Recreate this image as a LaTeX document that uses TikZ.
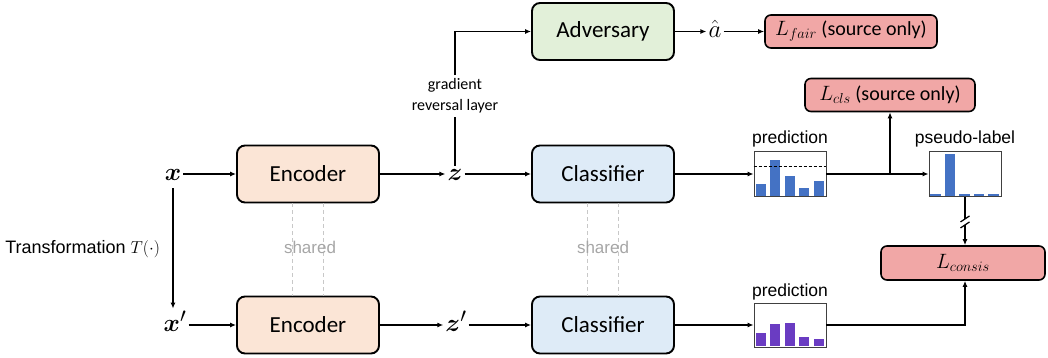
\documentclass[tikz,border=0pt]{standalone}
\usepackage{fontspec}
\usepackage{bm}
\setmainfont{Carlito}
\newfontfamily\arialfont{Liberation Sans}
\usetikzlibrary{arrows.meta,calc}

\definecolor{encfill}{HTML}{FBE5D6}
\definecolor{clsfill}{HTML}{DEEBF7}
\definecolor{advfill}{HTML}{E2F0D9}
\definecolor{lossfill}{HTML}{F1A7A6}
\definecolor{barblue}{HTML}{4472C4}
\definecolor{barpurple}{HTML}{6A3CC2}
\definecolor{sharegray}{HTML}{C8C8C8}
\definecolor{sharetext}{HTML}{A6A6A6}

\tikzset{
  module/.style={draw=black, line width=1.9pt, rounded corners=8pt,
    minimum width=142pt, minimum height=57pt, inner sep=0pt,
    font=\fontsize{23}{26}\selectfont},
  lossbox/.style={draw=black, line width=1.6pt, rounded corners=6pt,
    fill=lossfill, minimum height=33pt, inner sep=0pt,
    font=\fontsize{20}{24}\selectfont},
  var/.style={font=\fontsize{28}{30}\selectfont, inner sep=2pt,
    text height=12.5pt, text depth=0pt},
  hist/.style={draw=black!75, line width=0.9pt, minimum width=72pt,
    minimum height=45pt, inner sep=0pt},
  flow/.style={line width=1.3pt, -{Latex[length=6pt,width=5pt]}},
  plain/.style={line width=1.3pt},
  sharedline/.style={draw=sharegray, line width=0.8pt, dash pattern=on 4pt off 3pt},
  caption/.style={font=\arialfont\fontsize{17.5}{20}\selectfont, inner sep=2pt},
  sharedtext/.style={font=\arialfont\fontsize{17}{20}\selectfont, text=sharetext},
  sidetext/.style={font=\arialfont\fontsize{18}{20}\selectfont},
  threshold/.style={line width=0.8pt, dash pattern=on 3pt off 2pt},
}

\begin{document}
\begin{tikzpicture}[x=1pt, y=-1pt]
\useasboundingbox (0,0) rectangle (1048,358);

% inputs and feature maps
\node[var] (x)  at (173,174) {$\bm{x}$};
\node[var] (x2) at (175,325) {$\bm{x}'$};
\node[module, fill=encfill] (enc1) at (308,174) {Encoder};
\node[module, fill=encfill] (enc2) at (308,325) {Encoder};
\node[var] (z)  at (455,174) {$\bm{z}$};
\node[var] (z2) at (456,325) {$\bm{z}'$};
\node[module, fill=clsfill] (cls1) at (603,174) {Classifier};
\node[module, fill=clsfill] (cls2) at (603,325) {Classifier};

% adversarial branch
\node[module, fill=advfill] (adv) at (603,31.5) {Adversary};
\node[font=\fontsize{16}{21}\selectfont, align=center] (grl) at (455,96)
  {gradient\\reversal layer};
\node[var] (ahat) at (715,31.5) {$\hat{a}$};
\node[lossbox, minimum width=172pt] (lfair) at (851,31.5) {$L_{fair}$ (source only)};

% losses
\node[lossbox, minimum width=170pt] (lcls) at (890,95) {$L_{cls}$ (source only)};
\node[lossbox, minimum width=164pt, minimum height=34pt] (lcons) at (963,263) {$L_{consis}$};

% output histograms
\node[hist] (pred1)  at (790,174) {};
\node[hist] (pseudo) at (965,174) {};
\node[hist, minimum height=44pt] (pred2) at (790,325) {};
\node[caption, above=2pt] (pred1lbl) at (pred1.north) {prediction};
\node[caption, above=2pt] (pseudolbl) at (pseudo.north) {pseudo-label};
\node[caption, above=0pt] (pred2lbl) at (pred2.north) {prediction};

\foreach \h [count=\i from 0] in {12,35.7,19.7,7.7,14.7}
  \fill[barblue] ($(pred1.south west)+(2+14.5*\i,-1.2)$) rectangle ++(10,-\h);
\draw[threshold] ($(pred1.north west)+(0,15.7)$) -- ($(pred1.north east)+(0,15.7)$);
\foreach \h [count=\i from 0] in {2,41.5,2,2,2}
  \fill[barblue] ($(pseudo.south west)+(1.5+14.5*\i,-1.2)$) rectangle ++(10.5,-\h);
\foreach \h [count=\i from 0] in {13,22.6,23.6,9.5,7.5}
  \fill[barpurple] ($(pred2.south west)+(2+14.5*\i,-1.2)$) rectangle ++(10,-\h);

% main flow
\draw[flow] (x) -- (enc1);
\draw[flow] (x2) -- (enc2);
\draw[flow] (enc1) -- (z);
\draw[flow] (enc2) -- (z2);
\draw[flow] (z) -- (cls1);
\draw[flow] (z2) -- (cls2);
\draw[flow] (cls1) -- (pred1);
\draw[flow] (cls2) -- (pred2);
\draw[flow, shorten <=6pt, shorten >=8pt] (x) --
  node[sidetext, left=9pt] (tlab) {Transformation $T(\cdot)$}
  (x |- x2.north);

% adversary branch
\draw[plain] (z) -- (grl);
\draw[flow] (grl.north) |- (adv.west);
\draw[flow] (adv) -- (ahat);
\draw[flow] (ahat) -- (lfair);

% classification loss and pseudo-label
\draw[flow] (pred1) -- (pseudo);
\draw[flow] (pred1.east -| lcls.south) -- (lcls.south);

% stop-gradient break on the pseudo-label path
\coordinate (brkA) at ($(pseudo.south)+(0,22)$);
\coordinate (brkB) at ($(pseudo.south)+(0,28)$);
\draw[plain] (pseudo.south) -- (brkA);
\draw[flow] (brkB) -- (pseudo.south |- lcons.north);
\draw[plain] ($(brkA)+(-4.5,3)$) -- ($(brkA)+(4.5,-3)$);
\draw[plain] ($(brkB)+(-4.5,3)$) -- ($(brkB)+(4.5,-3)$);
\draw[flow] (pred2) -| (pseudo.south |- lcons.south);

% shared weights
\foreach \dx in {-16,15} {
  \draw[sharedline] ($(enc1.south)+(\dx,0)$) -- ($(enc2.north)+(\dx,0)$);
  \draw[sharedline] ($(cls1.south)+(\dx,0)$) -- ($(cls2.north)+(\dx,0)$);
}
\node[sharedtext] (sh1) at ($(enc1.south)!0.5!(enc2.north)+(2,-2)$) {shared};
\node[sharedtext] (sh2) at ($(cls1.south)!0.5!(cls2.north)+(0,-2)$) {shared};
\end{tikzpicture}
\end{document}
